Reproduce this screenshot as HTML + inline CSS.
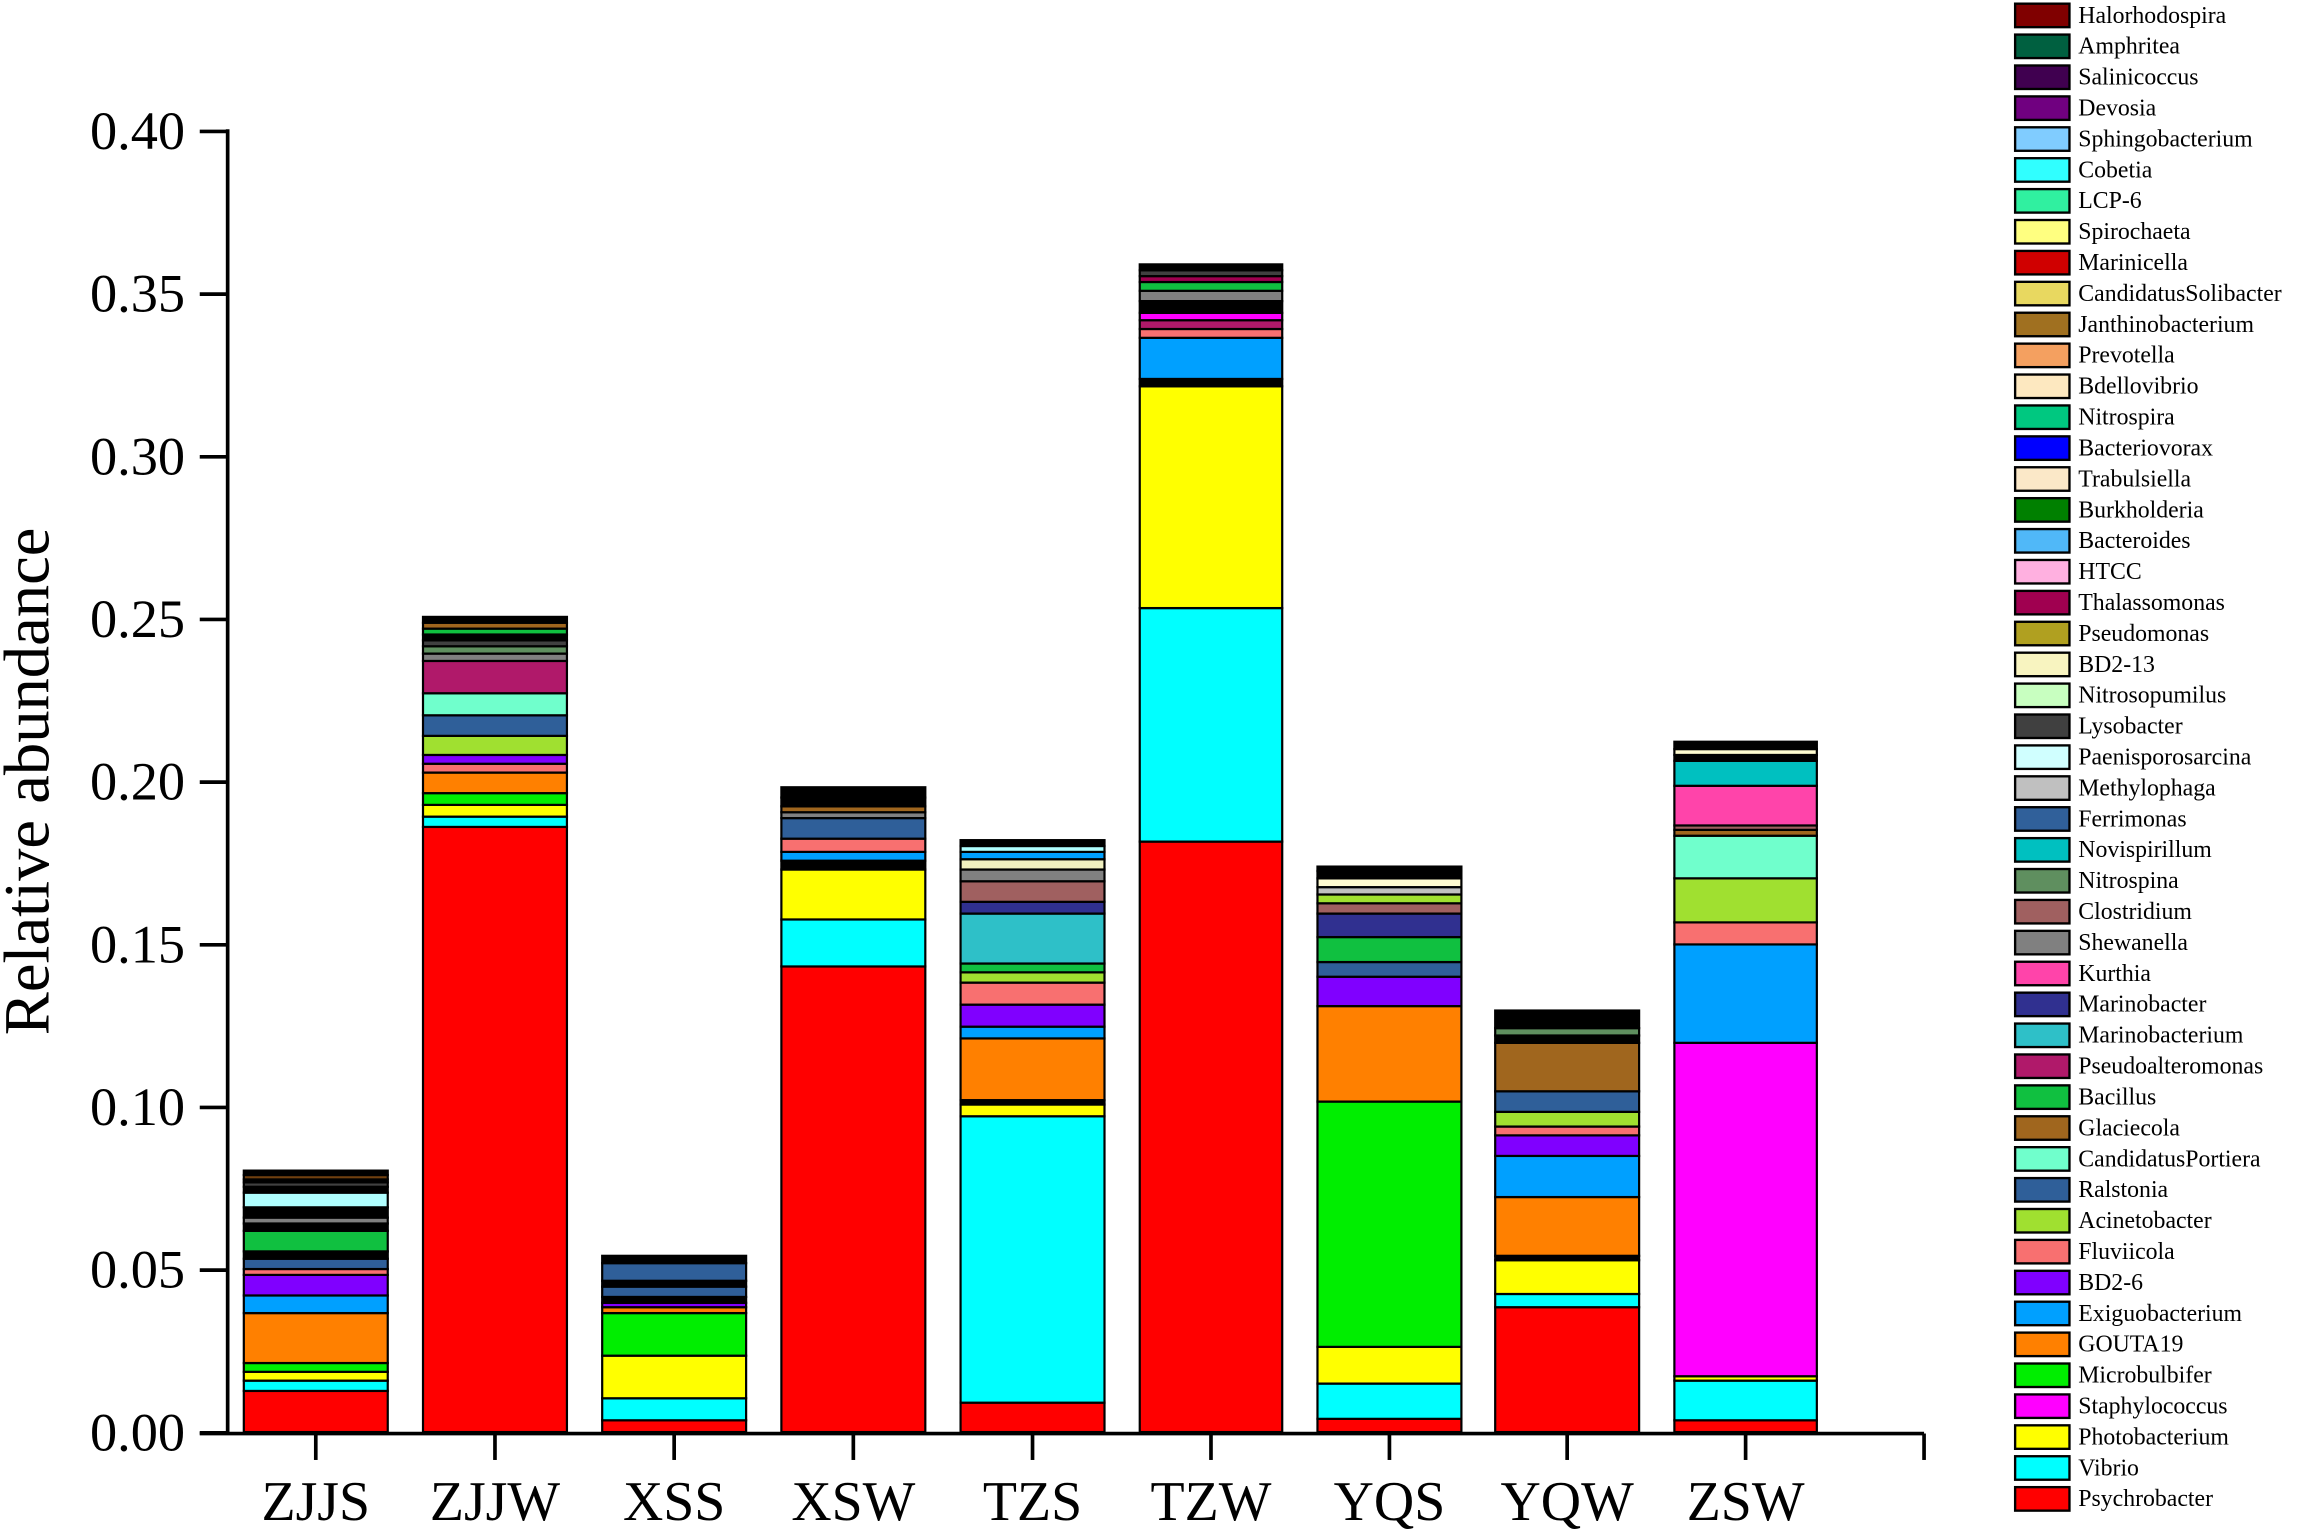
<!DOCTYPE html>
<html><head><meta charset="utf-8"><style>
html,body{margin:0;padding:0;background:#fff;}
svg{display:block;}
</style></head><body>
<svg width="2303" height="1529" viewBox="0 0 1568 1041" preserveAspectRatio="none" xmlns="http://www.w3.org/2000/svg" font-family="Liberation Serif, serif">
<g id="bars" stroke="#000" stroke-width="1.5"></g>
<g stroke="#000" stroke-width="2.5" fill="none">
<line x1="155" y1="88" x2="155" y2="976"/>
<line x1="136" y1="976" x2="1310" y2="976"/>
<line x1="1310" y1="976" x2="1310" y2="994"/>
</g>
<g id="ticks" stroke="#000" stroke-width="2.5"></g>
<g font-size="37" text-anchor="end" id="ylab"></g>
<g font-size="38" text-anchor="middle" id="xlab"></g>
<text x="33" y="532" font-size="44" text-anchor="middle" transform="rotate(-90 33 532)">Relative abundance</text>
<g id="legend" font-size="16.2"></g>
<script>
var NS="http://www.w3.org/2000/svg";
function el(p,t,a,txt){var e=document.createElementNS(NS,t);for(var k in a)e.setAttribute(k,a[k]);if(txt!=null)e.textContent=txt;document.getElementById(p).appendChild(e);}
var C={red:"#ff0000",cy:"#00ffff",ye:"#ffff00",gr:"#00ee00",or:"#ff8000",bl:"#00a0ff",pu:"#8000ff",fl:"#f87070",ac:"#a0e030",ra:"#2f5f99",cp:"#70ffcc",gl:"#a0661e",ba:"#10c040",pa:"#b0196a",mb:"#2ec0c8",mr:"#303090",ku:"#ff44aa",sh:"#808080",cl:"#a06060",ni:"#5f8f5f",no:"#00c0c0",fe:"#30609a",me:"#c0c0c0",pe:"#b0ffff",ly:"#404040",k:"#000",ma:"#ff00ff",bd:"#f0f0c0",ps:"#b09010",th:"#a00050",lb:"#fffbd0",br:"#704010"};
var bars=[
[166,264,[[975,947,"red"],[947,940,"cy"],[940,934,"ye"],[934,928,"gr"],[928,894,"or"],[894,882,"bl"],[882,868,"pu"],[868,864,"fl"],[864,857,"ra"],[857,852,"k"],[852,838,"ba"],[838,833,"k"],[833,829,"sh"],[829,822,"k"],[822,812,"pe"],[812,808,"k"],[808,805,"ly"],[805,803,"k"],[803,800,"br"],[800,797,"k"]]],
[288,386,[[975,563,"red"],[563,556,"cy"],[556,548,"ye"],[548,540,"gr"],[540,526,"or"],[526,520,"fl"],[520,514,"pu"],[514,501,"ac"],[501,487,"ra"],[487,472,"cp"],[472,450,"pa"],[450,445,"sh"],[445,440,"ni"],[440,436,"ly"],[436,432,"k"],[432,428,"ba"],[428,424,"gl"],[424,420,"k"]]],
[410,508,[[975,967,"red"],[967,952,"cy"],[952,923,"ye"],[923,894,"gr"],[894,890,"or"],[890,887,"pu"],[887,883,"k"],[883,876,"ra"],[876,872,"k"],[872,860,"ra"],[860,855,"k"]]],
[532,630,[[975,658,"red"],[658,626,"cy"],[626,592,"ye"],[592,586,"k"],[586,580,"bl"],[580,571,"fl"],[571,557,"ra"],[557,553,"sh"],[553,549,"gl"],[549,543,"k"],[543,536,"k"]]],
[654,752,[[975,955,"red"],[955,760,"cy"],[760,752,"ye"],[752,749,"k"],[749,707,"or"],[707,699,"bl"],[699,684,"pu"],[684,669,"fl"],[669,662,"ac"],[662,656,"ba"],[656,622,"mb"],[622,614,"mr"],[614,600,"cl"],[600,592,"sh"],[592,585,"bd"],[585,580,"bl"],[580,576,"pe"],[576,572,"k"]]],
[776,873,[[975,573,"red"],[573,414,"cy"],[414,263,"ye"],[263,258,"k"],[258,230,"bl"],[230,224,"fl"],[224,218,"pa"],[218,213,"ma"],[213,205,"k"],[205,198,"sh"],[198,192,"ba"],[192,188,"th"],[188,184,"ly"],[184,180,"k"]]],
[897,995,[[975,966,"red"],[966,942,"cy"],[942,917,"ye"],[917,750,"gr"],[750,685,"or"],[685,665,"pu"],[665,655,"ra"],[655,638,"ba"],[638,622,"mr"],[622,615,"cl"],[615,609,"ac"],[609,604,"me"],[604,598,"lb"],[598,593,"k"],[593,590,"k"]]],
[1018,1116,[[975,890,"red"],[890,881,"cy"],[881,858,"ye"],[858,855,"k"],[855,815,"or"],[815,787,"bl"],[787,773,"pu"],[773,767,"fl"],[767,757,"ac"],[757,743,"ra"],[743,710,"gl"],[710,705,"k"],[705,700,"ni"],[700,688,"k"]]],
[1140,1237,[[975,967,"red"],[967,940,"cy"],[940,937,"ye"],[937,710,"ma"],[710,643,"bl"],[643,628,"fl"],[628,598,"ac"],[598,569,"cp"],[569,565,"gl"],[565,562,"cl"],[562,535,"ku"],[535,518,"no"],[518,514,"k"],[514,510,"lb"],[510,505,"k"]]]];
bars.forEach(function(b){b[2].forEach(function(s){el("bars","rect",{x:b[0],y:s[1],width:b[1]-b[0],height:s[0]-s[1],fill:C[s[2]]});});});
var names=["ZJJS","ZJJW","XSS","XSW","TZS","TZW","YQS","YQW","ZSW"];
bars.forEach(function(b,i){var cx=(b[0]+b[1])/2;el("ticks","line",{x1:cx,y1:976,x2:cx,y2:994});el("xlab","text",{x:cx,y:1035},names[i]);});
for(var i=0;i<=8;i++){var y=975.5-i*110.75;el("ticks","line",{x1:136,y1:y,x2:155,y2:y});el("ylab","text",{x:126,y:y+12},(i*0.05).toFixed(2));}
var L=[["Halorhodospira","#800000"],["Amphritea","#006040"],["Salinicoccus","#400050"],["Devosia","#700080"],["Sphingobacterium","#80ccff"],["Cobetia","#30ffff"],["LCP-6","#30f0a0"],["Spirochaeta","#ffff80"],["Marinicella","#d00000"],["CandidatusSolibacter","#e8d860"],["Janthinobacterium","#a07020"],["Prevotella","#f4a060"],["Bdellovibrio","#fde8c0"],["Nitrospira","#00c880"],["Bacteriovorax","#0000ff"],["Trabulsiella","#fbe8c8"],["Burkholderia","#008000"],["Bacteroides","#50b8f8"],["HTCC","#ffb0e0"],["Thalassomonas","#a00050"],["Pseudomonas","#b0a020"],["BD2-13","#f8f4c0"],["Nitrosopumilus","#c8ffc0"],["Lysobacter","#404040"],["Paenisporosarcina","#d0ffff"],["Methylophaga","#c0c0c0"],["Ferrimonas","#30609a"],["Novispirillum","#00c0c0"],["Nitrospina","#5f8f5f"],["Clostridium","#a06060"],["Shewanella","#808080"],["Kurthia","#ff44aa"],["Marinobacter","#303090"],["Marinobacterium","#2ec0c8"],["Pseudoalteromonas","#b0196a"],["Bacillus","#10c040"],["Glaciecola","#a0661e"],["CandidatusPortiera","#70ffcc"],["Ralstonia","#2f5f99"],["Acinetobacter","#a0e030"],["Fluviicola","#f87070"],["BD2-6","#8000ff"],["Exiguobacterium","#00a0ff"],["GOUTA19","#ff8000"],["Microbulbifer","#00ee00"],["Staphylococcus","#ff00ff"],["Photobacterium","#ffff00"],["Vibrio","#00ffff"],["Psychrobacter","#ff0000"]];
var n=L.length, y0=10.5, dy=(1020.5-10.5)/(n-1);
L.forEach(function(it,i){var y=y0+i*dy;el("legend","rect",{x:1372,y:y-8,width:37,height:16,fill:it[1],stroke:"#000","stroke-width":1.6});el("legend","text",{x:1415,y:y+5},it[0]);});
</script>
</svg>
</body></html>
